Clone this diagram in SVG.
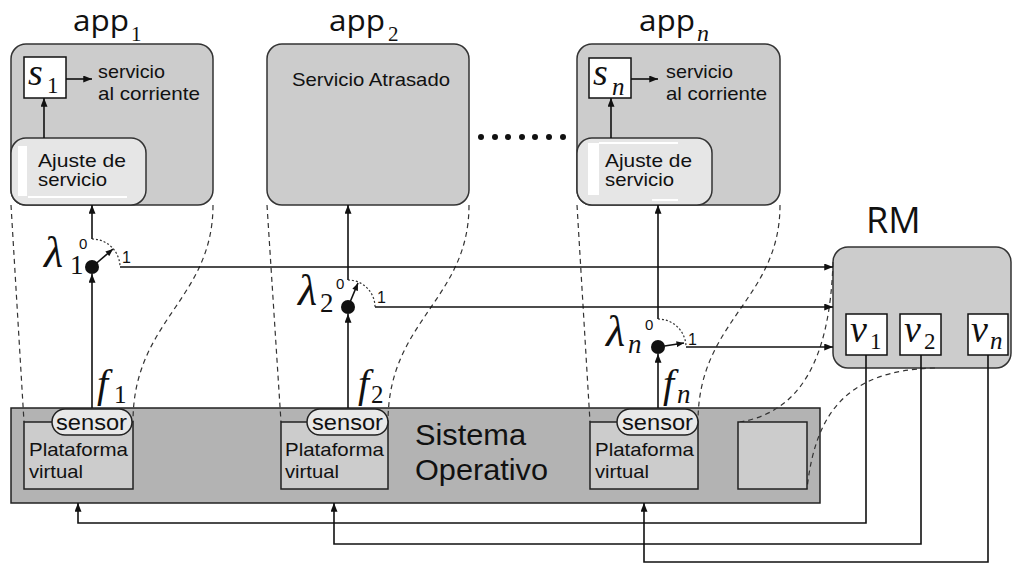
<svg xmlns="http://www.w3.org/2000/svg" width="1012" height="564" viewBox="0 0 1012 564">
<defs>
<marker id="ah" viewBox="0 0 10 8" refX="10" refY="4" markerWidth="9" markerHeight="7" markerUnits="userSpaceOnUse" orient="auto"><path d="M0,0 L10,4 L0,8 z" fill="#111"/></marker>
<marker id="ahs" viewBox="0 0 10 8" refX="10" refY="4" markerWidth="8" markerHeight="6" markerUnits="userSpaceOnUse" orient="auto"><path d="M0,0 L10,4 L0,8 z" fill="#111"/></marker>
</defs>
<style>
.box{fill:#cccccc;stroke:#333;stroke-width:1.5}
.adj{fill:#e6e6e6;stroke:#333;stroke-width:1.5}
.os{fill:#b3b3b3;stroke:#222;stroke-width:1.5}
.plat{fill:#cccccc;stroke:#222;stroke-width:1.5}
.sen{fill:#e8e8e8;stroke:#222;stroke-width:1.5}
.wb{fill:#ffffff;stroke:#111;stroke-width:1.5}
.ln{fill:none;stroke:#111;stroke-width:1.6}
.dash{fill:none;stroke:#333;stroke-width:1.2;stroke-dasharray:5,4}
.dot{fill:none;stroke:#333;stroke-width:1.2;stroke-dasharray:2,2}
.t{font-family:"Liberation Sans",Arial,sans-serif;fill:#111}
.big{font-family:"Open Sans","Liberation Sans",sans-serif;fill:#111}
.m{font-family:"Liberation Serif","Times New Roman",serif;font-style:italic;fill:#111}
.d{font-family:"Liberation Serif","Times New Roman",serif;fill:#111}
</style>
<rect width="1012" height="564" fill="#ffffff"/>

<!-- App 1 -->
<g id="app1">
<text class="big" x="73" y="31" font-size="29" textLength="56" lengthAdjust="spacingAndGlyphs">app</text>
<text class="d" x="131" y="41" font-size="21">1</text>
<rect class="box" x="11" y="44" width="202" height="161" rx="15"/>
<rect class="wb" x="24" y="57" width="42" height="41"/>
<text class="m" x="28" y="85" font-size="38">s</text>
<text class="d" x="47" y="93" font-size="23">1</text>
<text class="t" x="98" y="78" font-size="19" textLength="67" lengthAdjust="spacingAndGlyphs">servicio</text>
<text class="t" x="98" y="100" font-size="19" textLength="102" lengthAdjust="spacingAndGlyphs">al corriente</text>
</g>
<g id="adjust1">
<rect class="adj" x="11" y="138" width="135" height="67" rx="15"/>
<rect x="18" y="146" width="9" height="50" fill="#ffffff"/>
<rect x="28" y="196" width="99" height="2" fill="#ffffff"/>
<text class="t" x="38" y="167" font-size="19" textLength="88" lengthAdjust="spacingAndGlyphs">Ajuste de</text>
<text class="t" x="38" y="186" font-size="19" textLength="69" lengthAdjust="spacingAndGlyphs">servicio</text>
</g>

<!-- App 2 -->
<g id="app2">
<text class="big" x="329" y="31" font-size="29" textLength="56" lengthAdjust="spacingAndGlyphs">app</text>
<text class="d" x="388" y="41" font-size="21">2</text>
<rect class="box" x="267" y="44" width="202" height="161" rx="15"/>
<text class="t" x="292" y="86" font-size="19" textLength="158" lengthAdjust="spacingAndGlyphs">Servicio Atrasado</text>
</g>

<!-- dots -->
<g id="ellipsis" fill="#111">
<circle cx="481" cy="137" r="3"/><circle cx="495" cy="137" r="3"/><circle cx="508" cy="137" r="3"/><circle cx="522" cy="137" r="3"/><circle cx="535" cy="137" r="3"/><circle cx="549" cy="137" r="3"/><circle cx="563" cy="137" r="3"/>
</g>

<!-- App n -->
<g id="appn">
<text class="big" x="639" y="31" font-size="29" textLength="56" lengthAdjust="spacingAndGlyphs">app</text>
<text class="m" x="697" y="41" font-size="24">n</text>
<rect class="box" x="577" y="44" width="203" height="161" rx="15"/>
<rect class="wb" x="589" y="58" width="42" height="40"/>
<text class="m" x="593" y="85" font-size="38">s</text>
<text class="m" x="612" y="95" font-size="25">n</text>
<text class="t" x="666" y="78" font-size="19" textLength="67" lengthAdjust="spacingAndGlyphs">servicio</text>
<text class="t" x="666" y="100" font-size="19" textLength="101" lengthAdjust="spacingAndGlyphs">al corriente</text>
</g>
<g id="adjustn">
<rect class="adj" x="577" y="138" width="135" height="67" rx="15"/>
<rect x="588" y="143" width="11" height="52" fill="#ffffff"/>
<rect x="599" y="142" width="79" height="2" fill="#ffffff"/>
<rect x="652" y="199" width="26" height="2" fill="#ffffff"/>
<text class="t" x="605" y="167" font-size="19" textLength="87" lengthAdjust="spacingAndGlyphs">Ajuste de</text>
<text class="t" x="605" y="186" font-size="19" textLength="69" lengthAdjust="spacingAndGlyphs">servicio</text>
</g>

<!-- RM -->
<g id="rm">
<text class="big" x="866" y="233" font-size="36">RM</text>
<rect class="box" x="833" y="247" width="178" height="121" rx="15"/>
<rect class="wb" x="846" y="314" width="41" height="41"/>
<text class="m" x="850" y="342" font-size="38">v</text>
<text class="d" x="870" y="349" font-size="23">1</text>
<rect class="wb" x="900" y="314" width="41" height="41"/>
<text class="m" x="904" y="342" font-size="38">v</text>
<text class="d" x="924" y="349" font-size="23">2</text>
<rect class="wb" x="968" y="314" width="40" height="41"/>
<text class="m" x="971" y="342" font-size="38">v</text>
<text class="m" x="990" y="349" font-size="25">n</text>
</g>

<!-- OS -->
<g id="os">
<rect class="os" x="11" y="408" width="809" height="95"/>
<text class="t" x="415" y="445" font-size="30" textLength="111" lengthAdjust="spacingAndGlyphs">Sistema</text>
<text class="t" x="415" y="480" font-size="30" textLength="133" lengthAdjust="spacingAndGlyphs">Operativo</text>
</g>

<!-- projection dashed lines -->
<g id="projections">
<path class="dash" d="M11,205 L24,422"/>
<path class="dash" d="M213,205 C213,300 133,320 133,422"/>
<path class="dash" d="M267,205 L281,422"/>
<path class="dash" d="M469,205 C469,300 388,320 388,422"/>
<path class="dash" d="M577,205 L590,422"/>
<path class="dash" d="M780,205 C780,300 698,320 698,422"/>
<path class="dash" d="M833,262 C830,360 800,412 740,422"/>
<path class="dash" d="M935,368 C845,370 815,415 807,489"/>
</g>

<g id="platform1">
<rect class="plat" x="24" y="422" width="109" height="67"/>
<text class="t" x="29" y="456" font-size="19" textLength="99" lengthAdjust="spacingAndGlyphs">Plataforma</text>
<text class="t" x="29" y="478" font-size="19" textLength="54" lengthAdjust="spacingAndGlyphs">virtual</text>
</g>
<g id="sensor1">
<rect class="sen" x="52" y="409" width="80" height="26" rx="13"/>
<text class="t" x="56" y="430" font-size="22" textLength="71" lengthAdjust="spacingAndGlyphs">sensor</text>
</g>
<g id="platform2">
<rect class="plat" x="281" y="422" width="107" height="67"/>
<text class="t" x="285" y="456" font-size="19" textLength="99" lengthAdjust="spacingAndGlyphs">Plataforma</text>
<text class="t" x="285" y="478" font-size="19" textLength="54" lengthAdjust="spacingAndGlyphs">virtual</text>
</g>
<g id="sensor2">
<rect class="sen" x="307" y="409" width="81" height="26" rx="13"/>
<text class="t" x="312" y="430" font-size="22" textLength="71" lengthAdjust="spacingAndGlyphs">sensor</text>
</g>
<g id="platformn">
<rect class="plat" x="590" y="422" width="108" height="67"/>
<text class="t" x="595" y="456" font-size="19" textLength="99" lengthAdjust="spacingAndGlyphs">Plataforma</text>
<text class="t" x="595" y="478" font-size="19" textLength="54" lengthAdjust="spacingAndGlyphs">virtual</text>
</g>
<g id="sensorn">
<rect class="sen" x="617" y="409" width="81" height="26" rx="13"/>
<text class="t" x="622" y="430" font-size="22" textLength="71" lengthAdjust="spacingAndGlyphs">sensor</text>
</g>
<g id="rmhost">
<rect class="plat" x="738" y="422" width="69" height="67"/>
</g>

<!-- switches -->
<g id="switch1">
<circle cx="92" cy="267" r="7" fill="#111"/>
<path class="dot" d="M92,239 A28,28 0 0 1 120,267"/>
<text class="m" x="44" y="267" font-size="44">λ</text>
<text class="d" x="70" y="274" font-size="27">1</text>
<text class="t" x="79" y="249" font-size="15">0</text>
<text class="t" x="122" y="263" font-size="16">1</text>
<text class="m" x="97" y="397" font-size="40">f</text>
<text class="d" x="114" y="403" font-size="25">1</text>
</g>
<g id="switch2">
<circle cx="348" cy="307" r="7" fill="#111"/>
<path class="dot" d="M348,280 A27,27 0 0 1 375,307"/>
<text class="m" x="298" y="305" font-size="44">λ</text>
<text class="d" x="320" y="312" font-size="27">2</text>
<text class="t" x="336" y="289" font-size="15">0</text>
<text class="t" x="377" y="303" font-size="16">1</text>
<text class="m" x="358" y="397" font-size="40">f</text>
<text class="d" x="371" y="403" font-size="25">2</text>
</g>
<g id="switchn">
<circle cx="658" cy="347" r="7" fill="#111"/>
<path class="dot" d="M658,319 A28,28 0 0 1 686,347"/>
<text class="m" x="606" y="346" font-size="44">λ</text>
<text class="m" x="628" y="353" font-size="27">n</text>
<text class="t" x="645" y="330" font-size="15">0</text>
<text class="t" x="688" y="345" font-size="16">1</text>
<text class="m" x="663" y="397" font-size="40">f</text>
<text class="m" x="677" y="403" font-size="27">n</text>
</g>

<!-- connectors -->
<g id="connectors">
<path class="ln" d="M66,79 L92,79" marker-end="url(#ah)"/>
<path class="ln" d="M44,138 L44,98" marker-end="url(#ah)"/>
<path class="ln" d="M631,79 L658,79" marker-end="url(#ah)"/>
<path class="ln" d="M611,138 L611,98" marker-end="url(#ah)"/>

<path class="ln" d="M92,239 L92,205" marker-end="url(#ah)"/>
<path class="ln" d="M92,408 L92,274" marker-end="url(#ah)"/>
<path class="ln" d="M92,267 L113,249" marker-end="url(#ahs)"/>
<path class="ln" d="M120,267 L833,267" marker-end="url(#ah)"/>

<path class="ln" d="M348,280 L348,205" marker-end="url(#ah)"/>
<path class="ln" d="M348,408 L348,314" marker-end="url(#ah)"/>
<path class="ln" d="M348,307 L358,283" marker-end="url(#ahs)"/>
<path class="ln" d="M375,307 L833,307" marker-end="url(#ah)"/>

<path class="ln" d="M658,319 L658,205" marker-end="url(#ah)"/>
<path class="ln" d="M658,408 L658,354" marker-end="url(#ah)"/>
<path class="ln" d="M658,347 L684,343" marker-end="url(#ahs)"/>
<path class="ln" d="M686,347 L833,347" marker-end="url(#ah)"/>

<path class="ln" d="M866,355 L866,523 L78,523 L78,503" marker-end="url(#ah)"/>
<path class="ln" d="M921,355 L921,544 L334,544 L334,503" marker-end="url(#ah)"/>
<path class="ln" d="M988,355 L988,562 L644,562 L644,503" marker-end="url(#ah)"/>
</g>
</svg>
